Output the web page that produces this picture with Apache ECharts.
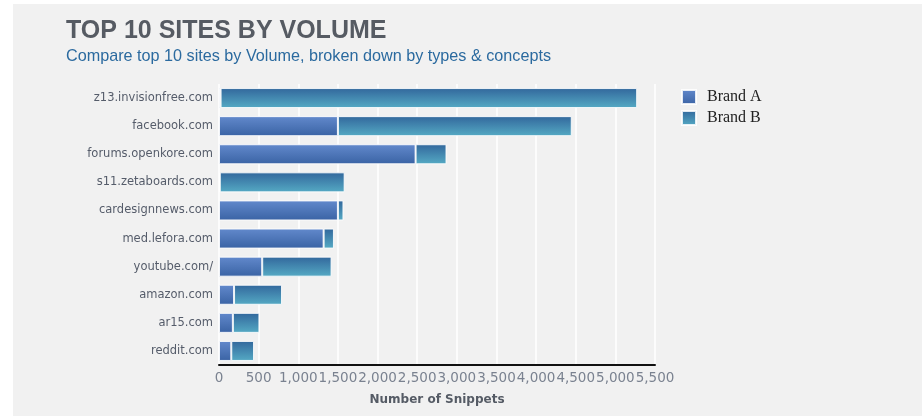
<!DOCTYPE html>
<html><head><meta charset="utf-8">
<script src="https://cdn.jsdelivr.net/npm/echarts@6/dist/echarts.min.js"></script>
<style>html,body{margin:0;padding:0;background:#fff}#c{width:922px;height:416px}</style>
</head><body><div id="c"></div>
<script>
const sites = ['z13.invisionfree.com','facebook.com','forums.openkore.com','s11.zetaboards.com','cardesignnews.com','med.lefora.com','youtube.com/','amazon.com','ar15.com','reddit.com'];
const brandA = [20, 1500, 2480, 10, 1500, 1320, 545, 190, 175, 155];
const brandB = [5255, 2950, 390, 1575, 70, 130, 875, 605, 335, 287];
const xTicks = [0,500,1000,1500,2000,2500,3000,3500,4000,4500,5000,5500];

const gradA = new echarts.graphic.LinearGradient(0,0,0,1,[{offset:0,color:'#6289cc'},{offset:1,color:'#3a63a4'}]);
const gradB = new echarts.graphic.LinearGradient(0,0,0,1,[{offset:0,color:'#32679c'},{offset:1,color:'#55aac4'}]);

const chart = echarts.init(document.getElementById('c'));
chart.setOption({
  animation:false,
  backgroundColor:'#ffffff',
  graphic:[{type:'rect',left:13,top:4,shape:{width:909,height:412},style:{fill:'#f1f1f1'},z:-10}],
  title:{
    text:'TOP 10 SITES BY VOLUME',
    subtext:'Compare top 10 sites by Volume, broken down by types & concepts',
    left:61, top:14, itemGap:5,
    textStyle:{fontFamily:'Liberation Sans',fontSize:25,fontWeight:'bold',color:'#565b63'},
    subtextStyle:{fontFamily:'Liberation Sans',fontSize:16.2,color:'#2b6a9f'}
  },
  legend:{
    orient:'vertical', left:676, top:84, itemWidth:14, itemHeight:14, itemGap:5, icon:'rect',
    textStyle:{fontFamily:'Liberation Serif',fontSize:16,color:'#222',padding:[0,0,0,6]},
    data:['Brand A','Brand B']
  },
  grid:{left:219,right:267,top:84,bottom:51,containLabel:false},
  xAxis:{
    type:'value', min:0, max:5500, interval:500,
    name:'Number of Snippets', nameLocation:'middle', nameGap:29,
    nameTextStyle:{fontFamily:'DejaVu Sans',fontSize:12,fontWeight:'bold',color:'#555b65'},
    axisLine:{show:true,lineStyle:{color:'#111',width:2}},
    axisTick:{show:false},
    axisLabel:{fontFamily:'DejaVu Sans',fontSize:13.5,color:'#7a8290',margin:6,hideOverlap:false,showMinLabel:true,showMaxLabel:true,
      formatter:v=>xTicks.includes(v)?v.toLocaleString('en-US'):''},
    splitLine:{show:true,lineStyle:{color:'#ffffff',width:1.5}}
  },
  yAxis:{
    type:'category', data:sites, inverse:true,
    axisLine:{show:false}, axisTick:{show:false},
    axisLabel:{fontFamily:'DejaVu Sans',fontSize:11.5,color:'#555c6a',margin:6},
    splitLine:{show:false}
  },
  series:[
    {name:'Brand A',type:'bar',stack:'t',data:brandA,barWidth:20,
     itemStyle:{color:gradA,borderColor:'rgba(255,255,255,0.85)',borderWidth:1}},
    {name:'Brand B',type:'bar',stack:'t',data:brandB,barWidth:20,
     itemStyle:{color:gradB,borderColor:'rgba(255,255,255,0.85)',borderWidth:1}}
  ]
});
</script></body></html>
